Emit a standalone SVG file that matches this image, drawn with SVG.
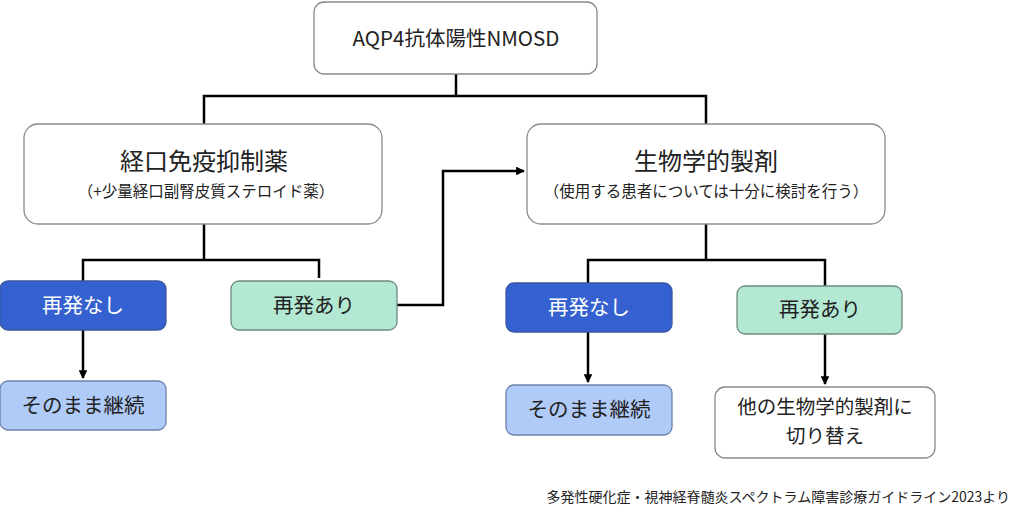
<svg xmlns="http://www.w3.org/2000/svg" width="1024" height="517" viewBox="0 0 1024 517">
<style>
text{font-family:"Noto Sans CJK JP","Liberation Sans",sans-serif;text-anchor:middle;fill:#222}
.w{fill:#fff;stroke:#8a8a8a;stroke-width:1.3}
.b{fill:#3561d0;stroke:#3a55a0;stroke-width:1.3}
.g{fill:#b3e8d3;stroke:#6e8a80;stroke-width:1.3}
.l{fill:#b0cbf8;stroke:#6b82ab;stroke-width:1.3}
.c{fill:none;stroke:#000;stroke-width:2.5}
.m{font-size:20.5px}
</style>
<defs><marker id="a" viewBox="0 0 10 10" refX="9" refY="5" markerWidth="3.5" markerHeight="3.5" orient="auto"><path d="M0,0L10,5L0,10z" fill="#000"/></marker></defs>
<rect width="1024" height="517" fill="#fff"/>
<g id="connectors">
<path class="c" d="M456,74V96M204,124V96H706V124"/>
<path class="c" d="M204,224V260M83,281V260H319V278"/>
<path class="c" d="M83,330V378" marker-end="url(#a)"/>
<path class="c" d="M397,305H443V171H524" marker-end="url(#a)"/>
<path class="c" d="M706,224V260M588,283V260H825V286"/>
<path class="c" d="M588,332V382" marker-end="url(#a)"/>
<path class="c" d="M825,334V384" marker-end="url(#a)"/>
</g>
<g id="n1"><rect class="w" x="314" y="2" width="283" height="72" rx="10"/><text x="456" y="46" font-size="20.5">AQP4抗体陽性NMOSD</text></g>
<g id="n2"><rect class="w" x="24" y="124" width="358" height="100" rx="14"/><text x="204" y="170" font-size="24">経口免疫抑制薬</text><text x="206" y="197" font-size="15.5">（+少量経口副腎皮質ステロイド薬）</text></g>
<g id="n3"><rect class="w" x="527" y="124" width="358" height="100" rx="14"/><text x="706" y="170" font-size="24">生物学的製剤</text><text x="706" y="197" font-size="15.5">（使用する患者については十分に検討を行う）</text></g>
<g id="n4"><rect class="b" x="0" y="281" width="166" height="49" rx="8"/><text class="m" x="83" y="313" style="fill:#fff">再発なし</text></g>
<g id="n5"><rect class="g" x="231" y="281" width="166" height="49" rx="8"/><text class="m" x="314" y="313">再発あり</text></g>
<g id="n6"><rect class="l" x="0" y="381" width="166" height="49" rx="8"/><text class="m" x="83" y="413">そのまま継続</text></g>
<g id="n7"><rect class="b" x="506" y="283" width="166" height="49" rx="8"/><text class="m" x="589" y="315" style="fill:#fff">再発なし</text></g>
<g id="n8"><rect class="g" x="737" y="286" width="165" height="48" rx="8"/><text class="m" x="820" y="317">再発あり</text></g>
<g id="n9"><rect class="l" x="506" y="385" width="166" height="50" rx="8"/><text class="m" x="589" y="417">そのまま継続</text></g>
<g id="n10"><rect class="w" x="715" y="387" width="220" height="71" rx="10"/><text x="825" y="414" font-size="19.5">他の生物学的製剤に</text><text x="825" y="443" font-size="19.5">切り替え</text></g>
<text x="1010" y="502" font-size="14" style="text-anchor:end">多発性硬化症・視神経脊髄炎スペクトラム障害診療ガイドライン2023より</text>
</svg>
